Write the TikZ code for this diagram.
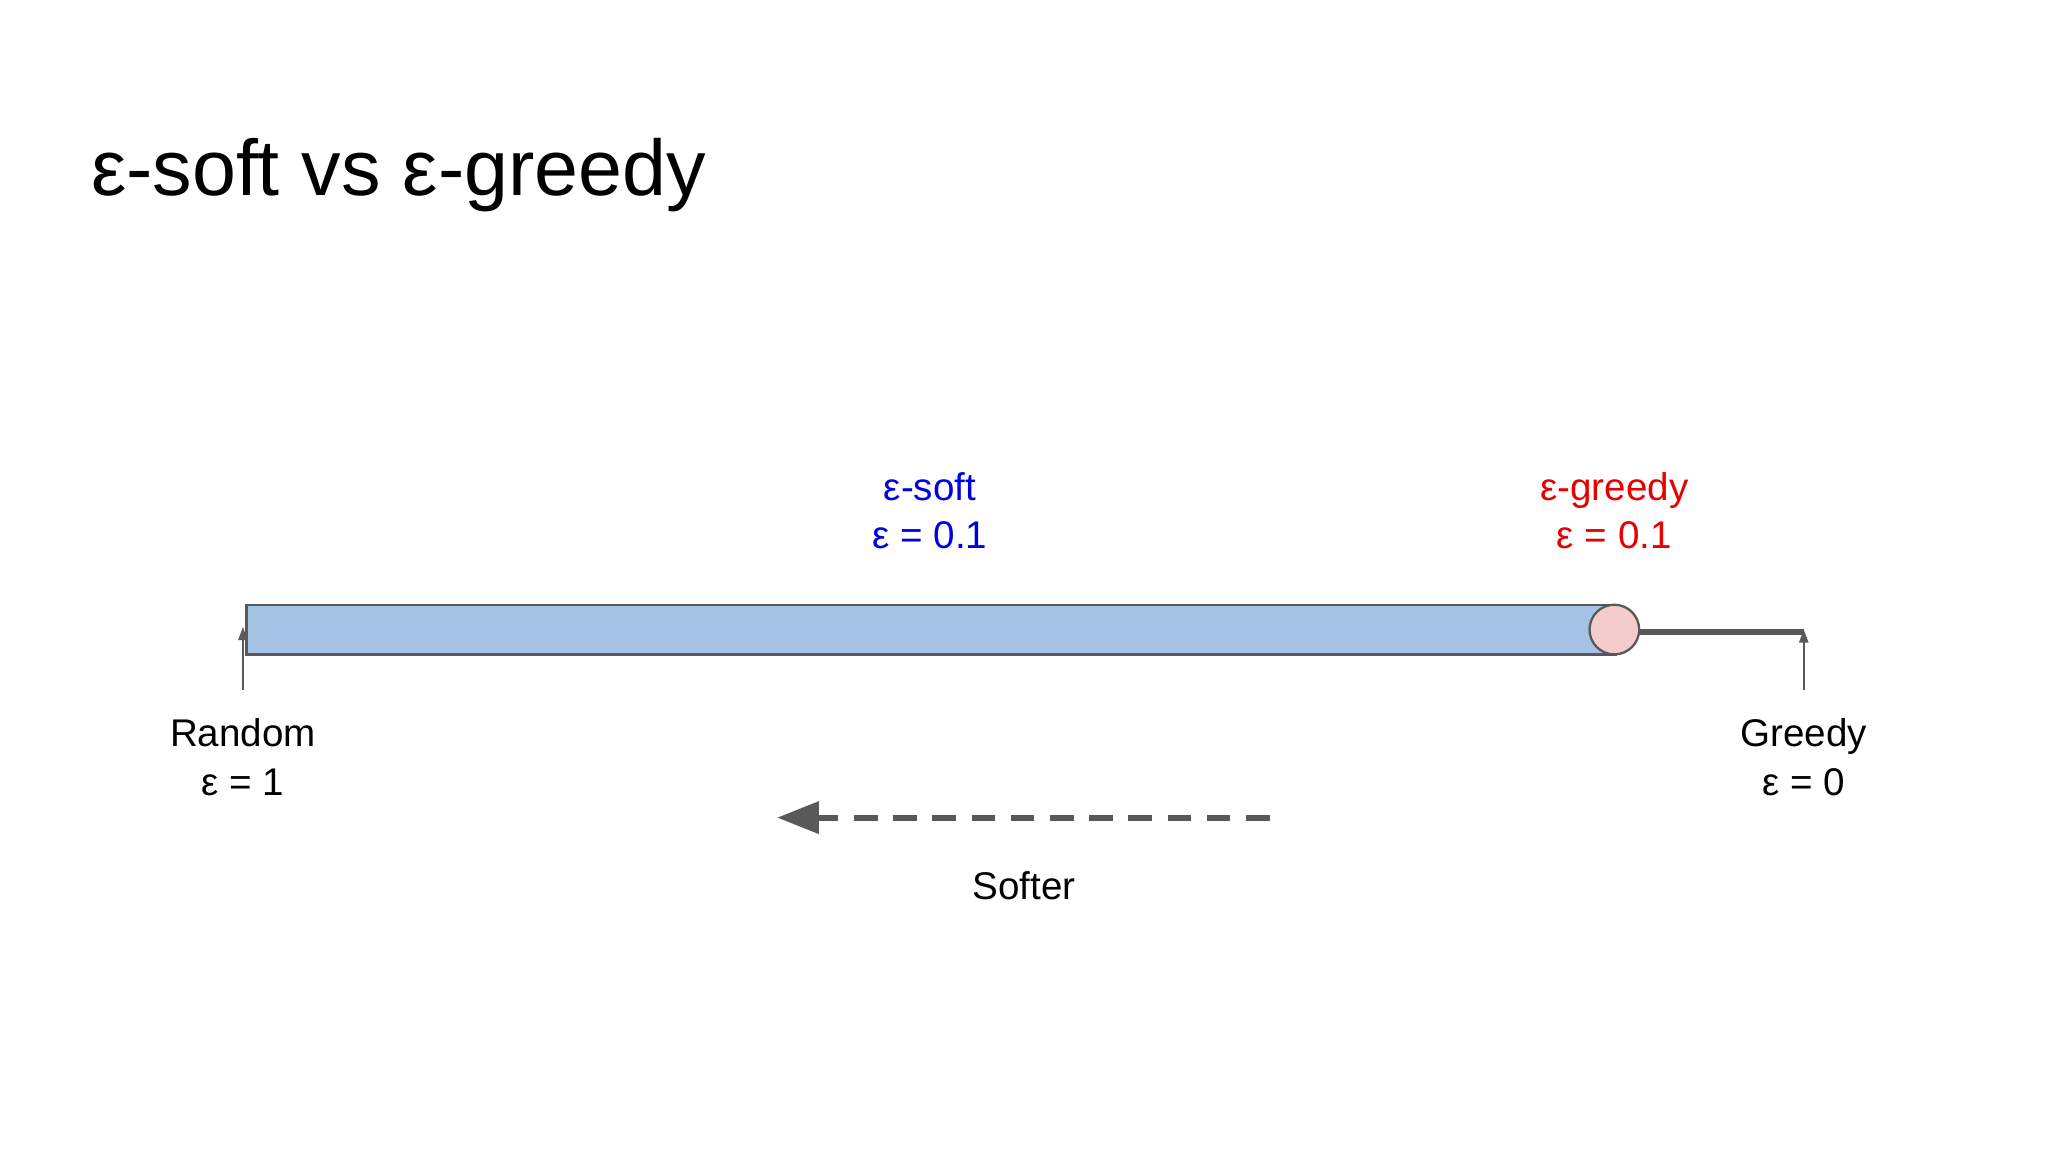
\documentclass[tikz,border=0pt]{standalone}
\usepackage{fontspec}
\setmainfont{Liberation Sans}
\usetikzlibrary{arrows.meta}
\definecolor{barblue}{HTML}{A4C2E4}
\definecolor{dotpink}{HTML}{F4CCCC}
\definecolor{dgray}{HTML}{595959}
\tikzset{lbl/.style={align=center,font=\fontsize{8.4pt}{10pt}\selectfont,inner sep=0pt},
tick/.style={draw=dgray,line width=0.4pt,-{Triangle[length=1mm,width=0.7mm]}}}
\begin{document}
\begin{tikzpicture}[x=0.01cm,y=-0.01cm]
\useasboundingbox (0,0) rectangle (1568,882);
\node[anchor=base west,inner sep=0pt,font=\fontsize{17.2pt}{20pt}\selectfont] (title) at (69,150) {ε-soft vs ε-greedy};
\node[draw=dgray,fill=barblue,line width=0.5pt,minimum width=10.48cm,minimum height=0.38cm,inner sep=0pt] (bar) at (713,482) {};
\node[circle,draw=dgray,fill=dotpink,line width=0.5pt,minimum size=0.38cm,inner sep=0pt] (dot) at (1236,482) {};
\coordinate (gend) at (1381,484);
\draw[dgray,line width=1.3pt] (dot.east |- gend) -- (gend);
\coordinate (rb) at (186,528); \coordinate (rt) at (186,480);
\coordinate (gb) at (1381,528); \coordinate (gt) at (1381,482);
\draw[tick] (rb) -- (rt);
\draw[tick] (gb) -- (gt);
\node[lbl] (random) at (186,580) {Random\\[0.6pt]ε = 1};
\node[lbl] (greedy) at (1381,580) {Greedy\\[0.6pt]ε = 0};
\node[lbl,text={rgb,255:red,0;green,0;blue,230}] (soft) at (712,391) {ε-soft\\[0.6pt]ε = 0.1};
\node[lbl,text={rgb,255:red,230;green,0;blue,0}] (egreedy) at (1236,391) {ε-greedy\\[0.6pt]ε = 0.1};
\coordinate (as) at (972,626); \coordinate (ae) at (595,626);
\draw[dgray,line width=1.3pt,dash pattern=on 0.18cm off 0.12cm,-{Triangle[length=0.32cm,width=0.24cm]}] (as) -- (ae);
\node[lbl] (softer) at (784,678) {Softer};
\end{tikzpicture}
\end{document}
